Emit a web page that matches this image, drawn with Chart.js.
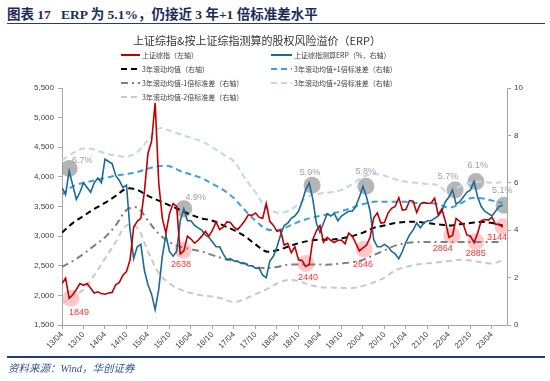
<!DOCTYPE html>
<html>
<head>
<meta charset="utf-8">
<script src="https://cdn.jsdelivr.net/npm/chart.js@4.4.0/dist/chart.umd.min.js"></script>
<style>
  html, body { margin: 0; padding: 0; background: #fff; }
  body { width: 550px; height: 381px; position: relative; overflow: hidden; }
  #c { position: absolute; left: 0; top: 0; }
  .head { position: absolute; left: 7px; top: 3px; font: bold 13.5px "Liberation Serif", "Noto Sans CJK SC", serif; color: #1C2B5A; white-space: pre; }
  .rule { position: absolute; left: 7px; width: 538px; height: 0; }
  .foot { position: absolute; left: 8px; top: 360px; font: italic 10.5px "Liberation Serif", "Noto Sans CJK SC", serif; color: #2F5496; }
</style>
</head>
<body>
<div class="head">图表 17   ERP 为 5.1%，仍接近 3 年+1 倍标准差水平</div>
<div class="rule" style="top:23px;border-top:1.5px solid #1F3E7A;"></div>
<canvas id="c" width="550" height="381"></canvas>
<div class="rule" style="top:356px;border-top:2px solid #1F3E7A;"></div>
<div class="foot">资料来源：Wind，华创证券</div>

<script>
// x values are months counted from 2013/04
const tickLabels = ['13/04','13/10','14/04','14/10','15/04','15/10','16/04','16/10','17/04','17/10',
  '18/04','18/10','19/04','19/10','20/04','20/10','21/04','21/10','22/04','22/10','23/04'];

const months = Array.from({ length: 124 }, (_, i) => i);

// 上证综指, monthly (left axis)
const indexVals = [
  2200, 2290, 1950, 2010, 2100, 2200, 2170, 2200, 2120,
  2040, 2060, 2030, 2020, 2040, 2050, 2180, 2220, 2340, 2400, 2600, 3150,
  3250, 3300, 3750, 4400, 4600, 5250, 3900, 3300, 3050, 3380, 3550, 3500,
  2700, 2750, 3000, 2950, 2880, 2930, 3000, 3080, 3000, 3100, 3240, 3110,
  3150, 3240, 3230, 3150, 3110, 3180, 3260, 3360, 3350, 3390, 3320, 3300,
  3550, 3250, 3180, 3080, 3100, 2850, 2880, 2720, 2820, 2600, 2590, 2490,
  2520, 2940, 3090, 3180, 2900, 2980, 2930, 2890, 2930, 2930, 2870, 3050,
  3000, 2880, 2750, 2800, 2850, 2980, 3310, 3390, 3220, 3230, 3390, 3470,
  3500, 3650, 3440, 3450, 3600, 3590, 3400, 3540, 3570, 3550, 3560, 3640,
  3360, 3460, 3250, 2980, 3010, 3300, 3250, 3200, 3020, 3000, 2890, 3050,
  3260, 3280, 3270, 3320, 3200, 3200, 3150
];

// ERP (%), monthly (right axis)
const erpVals = [
  5.8, 5.5, 6.5, 5.9, 5.3, 5.6, 6.0, 5.8, 5.6,
  6.0, 6.2, 6.0, 7.0, 6.9, 6.8, 6.3, 6.1, 5.8, 5.9, 4.0, 2.8,
  3.3, 3.4, 2.3, 1.7, 1.3, 0.65, 1.5, 2.9, 3.8, 3.1, 2.9, 3.1,
  4.4, 4.9, 4.4, 4.4, 4.2, 4.1, 4.0, 3.8, 3.7, 3.5, 3.3, 3.3,
  3.0, 2.75, 2.8, 2.7, 2.7, 2.6, 2.6, 2.5, 2.5, 2.4, 2.4, 2.1,
  2.0, 2.7, 2.9, 3.3, 3.8, 4.2, 4.3, 4.5, 4.6, 4.8, 5.2, 5.7,
  6.0, 5.3, 4.3, 3.9, 4.3, 4.7, 4.6, 4.7, 4.4, 4.6, 4.7, 4.8,
  4.8, 5.0, 5.4, 5.85, 5.4, 4.8, 3.6, 3.3, 3.3, 3.4, 3.3, 3.1,
  3.0, 2.8, 3.1, 3.5, 3.8, 4.0, 4.3, 4.1, 4.3, 4.4, 4.4, 4.5,
  4.6, 4.8, 5.2, 5.4, 5.7, 5.1, 5.2, 5.4, 5.6, 5.7, 6.05, 5.4,
  5.0, 4.8, 4.7, 4.6, 4.8, 5.0, 5.05
];

// rolling bands, read every 3 months
const bandMonths = Array.from({ length: 42 }, (_, i) => i * 3);
const meanVals = [3.9, 4.3, 4.6, 4.9, 5.15, 5.45, 5.75, 5.7, 5.45, 5.25,
  5.05, 4.85, 4.65, 4.5, 4.4, 4.2, 4.0, 3.75, 3.4, 3.1,
  3.15, 3.3, 3.45, 3.55, 3.6, 3.6, 3.65, 3.75, 3.9, 4.1,
  4.2, 4.3, 4.35, 4.35, 4.3, 4.25, 4.2, 4.25, 4.3, 4.35,
  4.3, 4.2];
const plus1Vals = [5.5, 5.85, 6.0, 6.1, 6.2, 6.3, 6.37, 6.45, 6.6, 6.7,
  6.7, 6.5, 6.35, 6.2, 5.95, 5.7, 5.35, 4.85, 4.4, 4.05,
  4.0, 4.15, 4.35, 4.5, 4.6, 4.7, 4.8, 4.95, 5.1, 5.2,
  5.2, 5.2, 5.2, 5.15, 5.15, 5.1, 4.95, 5.1, 5.35, 5.35,
  5.25, 5.15];
const minus1Vals = [2.45, 2.7, 3.0, 3.35, 3.7, 4.2, 4.85, 4.95, 4.4, 3.85,
  3.5, 3.3, 3.2, 3.1, 2.95, 2.8, 2.7, 2.6, 2.45, 2.4,
  2.45, 2.55, 2.55, 2.55, 2.55, 2.55, 2.6, 2.65, 2.75, 2.95,
  3.15, 3.35, 3.45, 3.5, 3.5, 3.5, 3.5, 3.5, 3.5, 3.5,
  3.5, 3.5];
const plus2Vals = [6.96, 7.25, 7.45, 7.4, 7.25, 7.15, 7.1, 7.3, 7.8, 8.3,
  8.2, 8.05, 7.9, 7.75, 7.5, 7.2, 6.9, 6.2, 5.6, 4.95,
  4.75, 4.8, 5.1, 5.45, 5.55, 5.6, 5.7, 5.95, 6.25, 6.37,
  6.3, 6.15, 6.05, 6.0, 5.95, 5.9, 5.55, 5.85, 6.0, 6.05,
  6.0, 6.03];
const minus2Vals = [0.9, 1.2, 1.5, 2.1, 2.8, 3.5, 4.2, 4.1, 3.1, 2.2,
  1.75, 1.5, 1.35, 1.25, 1.2, 1.1, 0.97, 1.1, 1.3, 1.5,
  1.75, 1.9, 1.85, 1.7, 1.6, 1.58, 1.56, 1.56, 1.65, 1.8,
  2.0, 2.3, 2.45, 2.55, 2.6, 2.65, 2.7, 2.75, 2.72, 2.65,
  2.6, 2.72];

// highlighted points
const erpMarkX = [2, 34, 69.8, 84.8, 109.7, 115.5, 123.4];
const erpMarkY = [6.6, 4.9, 5.9, 5.85, 5.7, 6.05, 5.05];
const erpMarkText = ['6.7%', '4.9%', '5.9%', '5.8%', '5.7%', '6.1%', '5.1%'];
const idxMarkX = [2.5, 33.8, 68.1, 84.3, 108.8, 115.5, 123.1];
const idxMarkY = [1950, 2760, 2540, 2780, 3010, 2910, 3160];
const idxMarkText = ['1849', '2638', '2440', '2646', '2864', '2885', '3144'];

// label offsets from circle centre (px)
const erpLabelOff = [[13, -8], [12, -11], [-2, -13], [0, -15], [-7, -13], [2, -16], [-2, -15]];
const idxLabelOff = [[8, 14], [-2, 14], [2, 14], [-1, 15], [-9, 13], [0, 12], [-6, 11]];

const toPts = (xs, ys) => ys.map((y, i) => ({ x: xs[i], y: y }));

const sansCJK = '"Noto Sans CJK SC", "Liberation Sans", sans-serif';

function bandSet(label, vals, color, dash) {
  return {
    label: label, data: toPts(bandMonths, vals), yAxisID: 'yR',
    borderColor: color, borderWidth: 2, borderDash: dash,
    pointRadius: 0, tension: 0.35, fill: false
  };
}

// legend slots: [datasetIndex, x of line start, y]
const legendSlots = [[0, 121, 55], [1, 271, 55], [2, 121, 69], [3, 271, 69], [4, 121, 83], [5, 271, 83], [6, 121, 97]];

const decor = {
  id: 'decor',
  afterDraw(chart) {
    const ctx = chart.ctx;
    ctx.save();
    // chart title
    ctx.font = '11px ' + sansCJK;
    ctx.fillStyle = '#333333';
    ctx.textAlign = 'center';
    ctx.textBaseline = 'middle';
    ctx.fillText('上证综指&按上证综指测算的股权风险溢价（ERP）', 257, 41);

    // legend
    ctx.font = '7px ' + sansCJK;
    ctx.textAlign = 'left';
    legendSlots.forEach(([di, x, y]) => {
      const ds = chart.data.datasets[di];
      const len = x > 200 ? 21 : 19;
      ctx.strokeStyle = ds.borderColor;
      ctx.lineWidth = 2;
      ctx.setLineDash(ds.borderDash || []);
      ctx.beginPath();
      ctx.moveTo(x, y);
      ctx.lineTo(x + len, y);
      ctx.stroke();
      ctx.setLineDash([]);
      ctx.fillStyle = '#404040';
      ctx.fillText(ds.label, x + len + 2, y + 0.5);
    });

    // labels on circles
    ctx.font = '9px "Liberation Sans", sans-serif';
    ctx.textAlign = 'center';
    chart.getDatasetMeta(7).data.forEach((pt, i) => {
      ctx.fillStyle = '#A0A0A0';
      ctx.fillText(erpMarkText[i], pt.x + erpLabelOff[i][0], pt.y + erpLabelOff[i][1]);
    });
    chart.getDatasetMeta(8).data.forEach((pt, i) => {
      ctx.fillStyle = '#FF3030';
      ctx.fillText(idxMarkText[i], pt.x + idxLabelOff[i][0], pt.y + idxLabelOff[i][1]);
    });
    ctx.restore();
  }
};

const axisGray = '#A6A6A6';
const tickFont = { family: '"Liberation Sans", sans-serif', size: 8 };

new Chart(document.getElementById('c'), {
  type: 'line',
  data: {
    datasets: [
      { label: '上证综指（左轴）', data: toPts(months, indexVals), yAxisID: 'yL',
        borderColor: '#C00000', borderWidth: 1.6, pointRadius: 0, tension: 0 },
      { label: '上证综指测算ERP（%，右轴）', data: toPts(months, erpVals), yAxisID: 'yR',
        borderColor: '#1B6A98', borderWidth: 1.6, pointRadius: 0, tension: 0 },
      bandSet('3年滚动均值（右轴）', meanVals, '#000000', [6, 4]),
      bandSet('3年滚动均值+1倍标准差（右轴）', plus1Vals, '#3CA0DC', [6, 4]),
      bandSet('3年滚动均值-1倍标准差（右轴）', minus1Vals, '#7F7F7F', [7, 4, 2, 4]),
      bandSet('3年滚动均值+2倍标准差（右轴）', plus2Vals, '#BDD7EE', [6, 4]),
      bandSet('3年滚动均值-2倍标准差（右轴）', minus2Vals, '#C9C9C9', [6, 4]),
      { label: 'erpMarks', data: toPts(erpMarkX, erpMarkY), yAxisID: 'yR', showLine: false,
        pointRadius: 8.5, pointBorderWidth: 0, pointBackgroundColor: 'rgba(150,150,150,0.7)' },
      { label: 'idxMarks', data: toPts(idxMarkX, idxMarkY), yAxisID: 'yL', showLine: false,
        pointRadius: 8.5, pointBorderWidth: 0, pointBackgroundColor: 'rgba(255,130,130,0.45)' }
    ]
  },
  options: {
    responsive: false,
    animation: false,
    layout: { padding: { top: 88, left: 0, right: 0, bottom: 0 } },
    plugins: { legend: { display: false }, tooltip: { enabled: false } },
    scales: {
      x: {
        type: 'linear', min: 0, max: 124.2,
        afterFit: s => { s.height = 56; },
        border: { color: axisGray },
        grid: { drawOnChartArea: false, tickLength: 4, color: axisGray },
        ticks: {
          stepSize: 6, includeBounds: false, autoSkip: false,
          minRotation: 45, maxRotation: 45, padding: 1,
          font: tickFont, color: '#404040',
          callback: v => tickLabels[v / 6] ?? ''
        }
      },
      yL: {
        position: 'left', min: 1500, max: 5500,
        afterFit: s => { s.width = 62; },
        border: { color: axisGray },
        grid: { drawOnChartArea: false, tickLength: 4, color: axisGray },
        ticks: { stepSize: 500, padding: 4, font: tickFont, color: '#404040',
          callback: v => v.toLocaleString('en-US') }
      },
      yR: {
        position: 'right', min: 0, max: 10,
        afterFit: s => { s.width = 43; },
        border: { color: axisGray },
        grid: { drawOnChartArea: false, tickLength: 4, color: axisGray },
        ticks: { stepSize: 2, padding: 3, font: tickFont, color: '#404040' }
      }
    }
  },
  plugins: [decor]
});
</script>
</body>
</html>
